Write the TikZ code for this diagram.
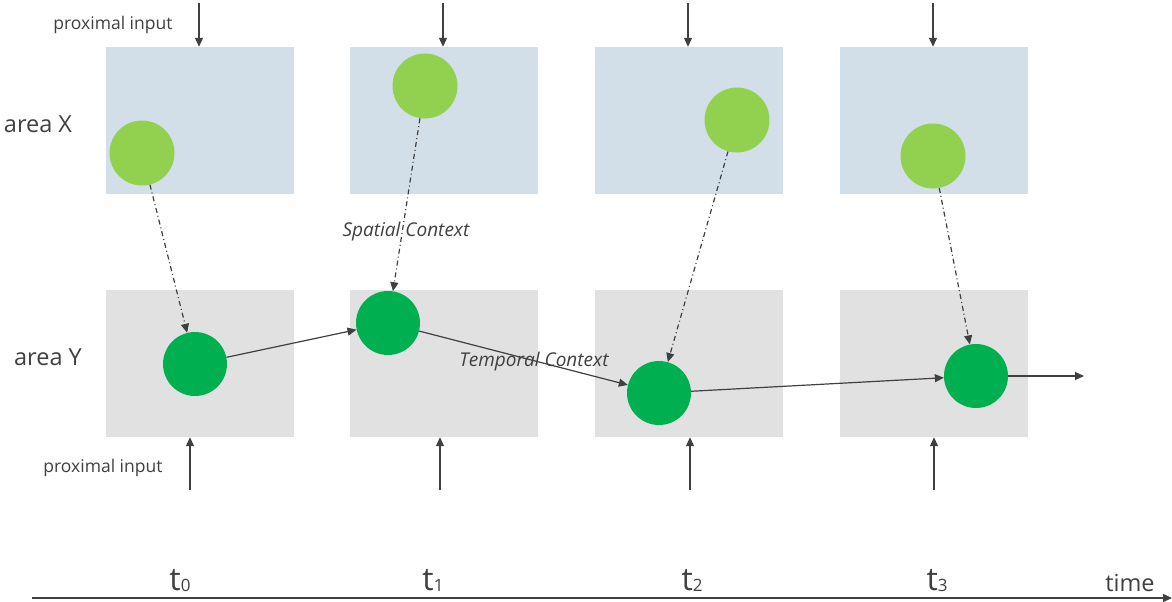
\documentclass[tikz,border=0pt]{standalone}
\usepackage{fontspec}
\setmainfont{Open Sans}
\usetikzlibrary{positioning, arrows.meta}
\definecolor{xfill}{HTML}{D3DFE8}
\definecolor{yfill}{HTML}{E1E1E1}
\definecolor{xcell}{HTML}{92D050}
\definecolor{ycell}{HTML}{00B050}
\definecolor{ink}{HTML}{404040}
\tikzset{xarea/.style={fill=xfill,minimum width=188pt,minimum height=147pt,inner sep=0pt},
         yarea/.style={fill=yfill,minimum width=188pt,minimum height=147pt,inner sep=0pt},
         xunit/.style={circle,fill=xcell,minimum size=65pt,inner sep=0pt},
         yunit/.style={circle,fill=ycell,minimum size=64pt,inner sep=0pt},
         feed/.style={draw=ink,line width=1.2pt,-{Triangle[length=9pt,width=8pt]}},
         spatial/.style={feed,dash pattern=on 5pt off 3pt on 1pt off 3pt},
         tlabel/.style={text=ink,font=\fontsize{32}{36}\selectfont,inner sep=0pt},
        }
\newcommand{\tstep}[1]{t\raisebox{-1pt}{\fontsize{17}{20}\selectfont #1}}

\begin{document}
\begin{tikzpicture}[x=1pt,y=-1pt,text=ink]
        \useasboundingbox (0,0) rectangle (1172,602);

        \node[xarea](x0)at(200,120.5){};
        \node[xarea](x1)at(444,120.5){};
        \node[xarea](x2)at(689,120.5){};
        \node[xarea](x3)at(933.5,120.5){};
        \node[yarea](y0)at(200,363.5){};
        \node[yarea](y1)at(444,363.5){};
        \node[yarea](y2)at(689,363.5){};
        \node[yarea](y3)at(933.5,363.5){};

        \node[font=\fontsize{23.5}{28}\selectfont](ax)at(38,124){area X};
        \node[font=\fontsize{23.5}{28}\selectfont](ay)at(48,357){area Y};

        \node[xunit](c0)at(142,153){};
        \node[xunit](c1)at(425,86){};
        \node[xunit](c2)at(737,120){};
        \node[xunit](c3)at(933,156){};
        \node[yunit](d0)at(195,364){};
        \node[yunit](d1)at(388,323){};
        \node[yunit](d2)at(659,393){};
        \node[yunit](d3)at(976,376){};

        % proximal input into both areas
        \node[font=\fontsize{17.5}{21}\selectfont](pt)at(113,25){proximal input};
        \node[font=\fontsize{17.5}{21}\selectfont](pb)at(103,468){proximal input};
        \coordinate(in0)at(199,3);
        \coordinate(in1)at(443,3);
        \coordinate(in2)at(688,3);
        \coordinate(in3)at(933,3);
        \draw[feed](in0)--(x0.north -| in0);
        \draw[feed](in1)--(x1.north -| in1);
        \draw[feed](in2)--(x2.north -| in2);
        \draw[feed](in3)--(x3.north -| in3);
        \coordinate(up0)at(190,490);
        \coordinate(up1)at(440,490);
        \coordinate(up2)at(690,490);
        \coordinate(up3)at(934,490);
        \draw[feed](up0)--(y0.south -| up0);
        \draw[feed](up1)--(y1.south -| up1);
        \draw[feed](up2)--(y2.south -| up2);
        \draw[feed](up3)--(y3.south -| up3);

        % spatial context
        \draw[spatial](c0)--(d0);
        \draw[spatial](c1)--(d1);
        \draw[spatial](c2)--(d2);
        \draw[spatial](c3)--(d3);
        \node[font=\itshape\fontsize{19}{23}\selectfont](sc)at(406,232){Spatial Context};

        % temporal context
        \coordinate(out)at(1084,376);
        \draw[feed](d0)--(d1);
        \draw[feed](d1)--(d2);
        \draw[feed](d2)--(d3);
        \draw[feed](d3)--(out);
        \node[font=\itshape\fontsize{19}{23}\selectfont](tc)at(534,362){Temporal Context};

        % time axis
        \coordinate(t0)at(32,598);
        \coordinate(tend)at(1172,598);
        \draw[feed](t0)--(tend);
        \node[tlabel,anchor=base](s0)at(180,590){\tstep{0}};
        \node[tlabel,anchor=base](s1)at(433,590){\tstep{1}};
        \node[tlabel,anchor=base](s2)at(692,590){\tstep{2}};
        \node[tlabel,anchor=base](s3)at(937,590){\tstep{3}};
        \node[font=\fontsize{23.5}{28}\selectfont](tm)at(1130,583){time};
    \end{tikzpicture}
\end{document}
